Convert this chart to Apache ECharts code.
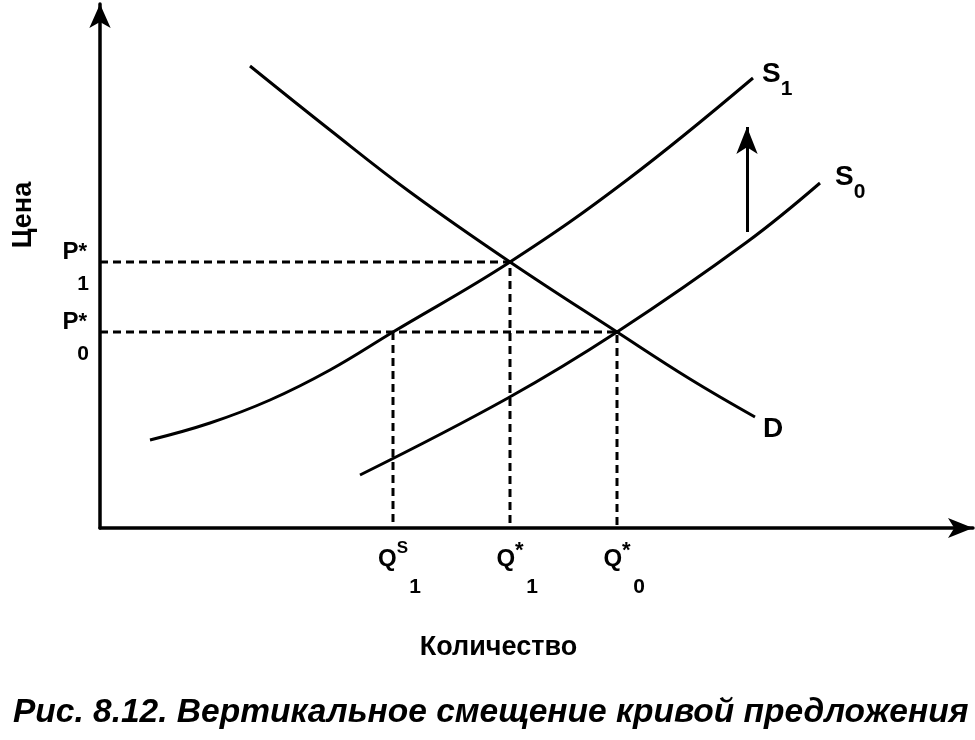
<!DOCTYPE html>
<html>
<head>
<meta charset="utf-8">
<script src="https://cdn.jsdelivr.net/npm/echarts@6/dist/echarts.min.js"></script>
<style>
  html, body { margin: 0; background: #fff; }
  #chart { width: 975px; height: 740px; }
</style>
</head>
<body>
<div id="chart"></div>
<script>
// Кривые спроса и предложения (условные единицы: количество, цена)
var demandD = [[150, 462], [230, 398], [310, 336], [410, 266], [517, 196], [590, 149], [655, 111]];
var supplyS1 = [[50, 88], [110, 105], [170, 128], [230, 158], [293, 196], [410, 266], [527, 348], [653, 450]];
var supplyS0 = [[260, 53], [408, 130], [517, 196], [647, 286], [720, 345]];

// Равновесия: P*0 / Q*0 и P*1 / Q*1, а также Q^S_1 (предложение S1 при цене P*0)
var eqPrice = [196, 266];
var eqQty = [517, 410];
var qtySupplyS1 = 293;

// Подписи делений
var priceSubs = ["0", "1"];
var qtyTicks = [qtySupplyS1, eqQty[1], eqQty[0]];
var qtySups = ["{sup|S}", "{st|*}", "{st|*}"];
var qtySubs = ["1", "1", "0"];

// Стрелка сдвига предложения вверх
var shiftArrow = [[647, 296], [647, 401]];

var FONT = "Liberation Sans";

var chart = echarts.init(document.getElementById("chart"));

// пунктирные линии к осям
var guides = [];
for (var i = 0; i < eqPrice.length; i++) {
  guides.push([[0, eqPrice[i]], [eqQty[i], eqPrice[i]], [eqQty[i], 0]]);
}
guides.push([[qtySupplyS1, eqPrice[0]], [qtySupplyS1, 0]]);

var guideSeries = guides.map(function (g) {
  return {
    type: "line",
    data: g,
    symbol: "none",
    silent: true,
    lineStyle: { color: "#000", width: 3, type: [8, 5] },
    z: 1,
  };
});

function curve(name, data, label) {
  return {
    name: name,
    type: "line",
    data: data,
    smooth: 0.4,
    symbol: "none",
    silent: true,
    lineStyle: { color: "#000", width: 3 },
    endLabel: label,
    z: 3,
  };
}

function txt(size, extra) {
  var s = { fontFamily: FONT, fontSize: size, fontWeight: "bold", color: "#000" };
  for (var k in extra) s[k] = extra[k];
  return s;
}

var curveRich = {
  m: txt(28, { lineHeight: 30, verticalAlign: "top" }),
  sub: txt(21, { lineHeight: 40, verticalAlign: "bottom" }),
};

var option = {
  animation: false,
  title: {
    text: "Рис. 8.12. Вертикальное смещение кривой предложения",
    left: 8,
    top: 691,
    textStyle: txt(33.5, { fontStyle: "italic" }),
  },
  grid: { left: 100, right: 2, top: 4, bottom: 212 },
  xAxis: {
    type: "value",
    min: 0,
    max: 873,
    name: "Количество",
    nameLocation: "middle",
    nameGap: 106,
    nameTextStyle: txt(27, { padding: [0, 76, 0, 0] }),
    axisLine: {
      show: true,
      symbol: ["none", "arrow"],
      symbolSize: [15, 25],
      lineStyle: { color: "#000", width: 3.5 },
    },
    axisTick: { show: false },
    splitLine: { show: false },
    axisLabel: {
      customValues: qtyTicks,
      margin: 12,
      formatter: function (v) {
        var k = qtyTicks.indexOf(v);
        return "{q|Q}" + qtySups[k] + "\n{sub|" + qtySubs[k] + "}";
      },
      rich: {
        q: txt(24, { lineHeight: 38 }),
        sup: txt(17, { lineHeight: 10, verticalAlign: "top" }),
        st: txt(22, { lineHeight: 10, verticalAlign: "top" }),
        sub: txt(21, { lineHeight: 18, padding: [0, 0, 0, 44] }),
      },
    },
  },
  yAxis: {
    type: "value",
    min: 0,
    max: 524,
    name: "Цена",
    nameLocation: "middle",
    nameRotate: 90,
    nameGap: 63,
    nameTextStyle: txt(27, { padding: [0, 0, 0, 102] }),
    axisLine: {
      show: true,
      symbol: ["none", "arrow"],
      symbolSize: [16, 24],
      lineStyle: { color: "#000", width: 3.5 },
    },
    axisTick: { show: false },
    splitLine: { show: false },
    axisLabel: {
      customValues: eqPrice,
      margin: 11,
      formatter: function (v) {
        var k = eqPrice.indexOf(v);
        return "{p|P}{st|*}\n{s|" + priceSubs[k] + "}";
      },
      padding: [18, 0, 0, 0],
      rich: {
        p: txt(24, { lineHeight: 26 }),
        st: txt(22, { lineHeight: 26, padding: [0, 2, 0, 0] }),
        s: txt(21, { lineHeight: 38 }),
      },
    },
  },
  series: guideSeries.concat([
    curve("D", demandD, {
      show: true,
      distance: 8,
      offset: [0, 13],
      formatter: "{m|D}",
      rich: curveRich,
    }),
    curve("S1", supplyS1, {
      show: true,
      distance: 9,
      offset: [0, 2],
      formatter: "{m|S}{sub|1}",
      rich: curveRich,
    }),
    curve("S0", supplyS0, {
      show: true,
      distance: 15,
      offset: [0, 0],
      formatter: "{m|S}{sub|0}",
      rich: curveRich,
    }),
    {
      type: "line",
      data: [],
      silent: true,
      markLine: {
        silent: true,
        symbol: ["none", "arrow"],
        symbolSize: [16, 27],
        label: { show: false },
        lineStyle: { color: "#000", width: 3, type: "solid" },
        data: [[{ coord: shiftArrow[0] }, { coord: shiftArrow[1] }]],
      },
    },
  ]),
};

chart.setOption(option);
</script>
</body>
</html>
